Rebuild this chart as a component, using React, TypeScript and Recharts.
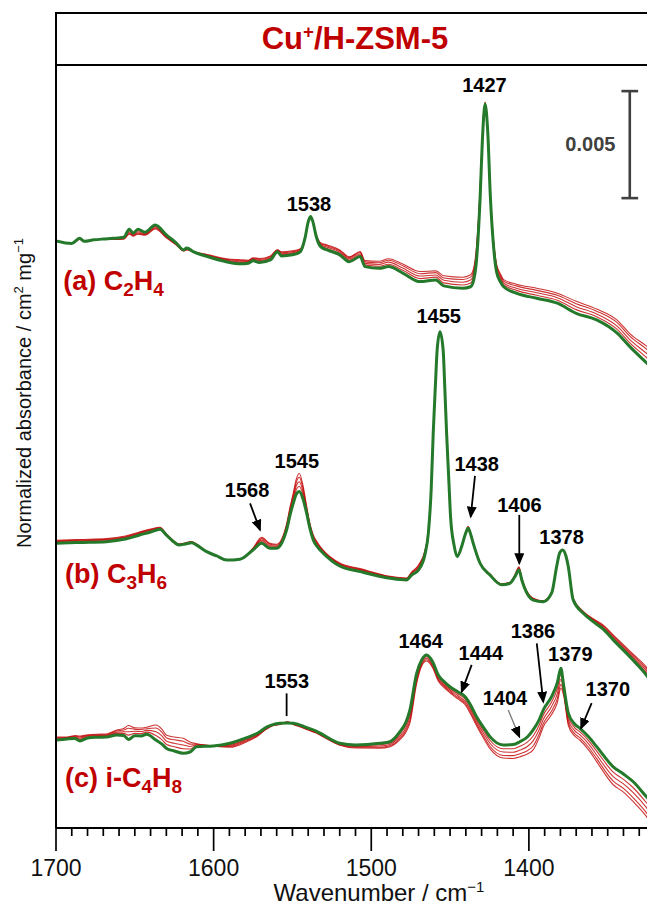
import React from 'react';
import { LineChart, Line, XAxis, YAxis, ReferenceLine, ReferenceDot } from 'recharts';

const W = 647;
const H = 905;
const FONT = '"Liberation Sans", Arial, Helvetica, sans-serif';
const RED = '#C00000';
const GREEN = '#24792A';

// spectra are stacked for clarity; offsets and values in mAbs (1e-3 absorbance)
const OFFSET_A = 26;
const OFFSET_B = 12;
const OFFSET_C = 4;

// (a) C2H4
const wnA = [1700, 1690, 1685, 1682, 1676, 1670, 1664, 1657, 1653.5, 1651, 1648, 1643.5, 1637, 1630, 1623.5, 1619, 1617, 1613, 1604, 1592, 1583, 1578, 1575, 1571, 1564, 1559.5, 1557, 1550, 1545, 1542, 1540, 1538.5, 1537, 1535, 1532, 1528, 1520, 1514, 1507, 1504, 1495, 1489, 1480, 1469, 1459, 1454, 1442, 1437, 1435, 1433.5, 1431, 1429.5, 1427.8, 1426, 1424.5, 1422.5, 1420.5, 1418, 1416, 1408, 1395, 1382, 1370, 1357, 1344, 1336, 1325, 1320];
const greenA = [1.43, 1.31, 1.55, 1.41, 1.48, 1.52, 1.55, 1.60, 1.98, 1.79, 1.98, 1.84, 2.18, 1.71, 1.32, 1.01, 1.10, 0.93, 0.70, 0.46, 0.36, 0.39, 0.50, 0.42, 0.54, 0.93, 0.73, 0.78, 0.92, 1.57, 2.32, 2.57, 2.32, 1.66, 1.15, 1.01, 0.78, 0.46, 0.70, 0.23, 0.15, 0.23, -0.07, -0.47, -0.39, -0.67, -0.78, -0.71, -0.39, 0.31, 3.35, 6.15, 7.83, 6.38, 3.58, 1.24, -0.02, -0.49, -0.71, -1.01, -1.25, -1.48, -1.95, -2.26, -2.88, -3.51, -4.29, -4.65];
const redA1 = [1.43, 1.31, 1.54, 1.41, 1.48, 1.52, 1.54, 1.57, 1.91, 1.75, 1.91, 1.80, 2.12, 1.67, 1.29, 1.00, 1.07, 0.93, 0.73, 0.50, 0.42, 0.43, 0.54, 0.48, 0.60, 0.96, 0.79, 0.84, 0.96, 1.58, 2.32, 2.57, 2.32, 1.69, 1.21, 1.08, 0.85, 0.53, 0.77, 0.31, 0.25, 0.34, 0.06, -0.33, -0.26, -0.53, -0.63, -0.54, -0.22, 0.51, 3.49, 6.21, 7.86, 6.38, 3.62, 1.32, 0.09, -0.38, -0.61, -0.88, -1.11, -1.34, -1.78, -2.11, -2.70, -3.33, -4.05, -4.40];
const redA2 = [1.43, 1.31, 1.52, 1.41, 1.48, 1.52, 1.52, 1.55, 1.85, 1.71, 1.85, 1.76, 2.08, 1.63, 1.27, 0.98, 1.05, 0.93, 0.75, 0.54, 0.46, 0.47, 0.58, 0.52, 0.64, 0.98, 0.83, 0.88, 1.00, 1.60, 2.32, 2.57, 2.32, 1.71, 1.25, 1.14, 0.91, 0.59, 0.83, 0.38, 0.33, 0.44, 0.16, -0.21, -0.16, -0.41, -0.50, -0.40, -0.08, 0.67, 3.61, 6.25, 7.88, 6.38, 3.66, 1.39, 0.19, -0.28, -0.53, -0.78, -0.99, -1.22, -1.64, -1.98, -2.55, -3.18, -3.85, -4.19];
const redA3 = [1.43, 1.31, 1.51, 1.41, 1.48, 1.52, 1.51, 1.53, 1.79, 1.68, 1.79, 1.73, 2.03, 1.60, 1.25, 0.97, 1.03, 0.93, 0.77, 0.57, 0.51, 0.50, 0.61, 0.57, 0.69, 1.00, 0.88, 0.93, 1.03, 1.61, 2.32, 2.57, 2.32, 1.73, 1.30, 1.20, 0.97, 0.65, 0.89, 0.45, 0.41, 0.53, 0.27, -0.10, -0.05, -0.30, -0.37, -0.26, 0.06, 0.83, 3.72, 6.30, 7.90, 6.38, 3.69, 1.46, 0.28, -0.19, -0.45, -0.67, -0.88, -1.11, -1.50, -1.85, -2.39, -3.02, -3.65, -3.98];
const redA4 = [1.43, 1.31, 1.50, 1.41, 1.48, 1.52, 1.50, 1.51, 1.75, 1.65, 1.75, 1.70, 1.99, 1.57, 1.23, 0.96, 1.01, 0.93, 0.79, 0.60, 0.55, 0.53, 0.64, 0.61, 0.73, 1.02, 0.92, 0.97, 1.06, 1.62, 2.32, 2.57, 2.32, 1.75, 1.34, 1.24, 1.01, 0.69, 0.93, 0.51, 0.48, 0.60, 0.35, 0.00, 0.03, -0.20, -0.27, -0.15, 0.17, 0.96, 3.82, 6.34, 7.92, 6.38, 3.72, 1.52, 0.35, -0.12, -0.38, -0.59, -0.78, -1.01, -1.39, -1.75, -2.27, -2.90, -3.50, -3.81];

// (b) C3H6
const wnB = [1700, 1685, 1668, 1656, 1647, 1640, 1634, 1630, 1626, 1622, 1618, 1614, 1610.8, 1604.4, 1598, 1591.7, 1583.3, 1575, 1569.5, 1564.3, 1560, 1556.5, 1553.7, 1551.5, 1549.5, 1547.5, 1545.7, 1543.5, 1541, 1539, 1536.8, 1533.5, 1530.5, 1520, 1507, 1488, 1477.6, 1474.4, 1470, 1466, 1463.8, 1462, 1460.7, 1459.3, 1458.2, 1456.4, 1454.4, 1453.3, 1452.2, 1450.8, 1449.7, 1447.5, 1445.5, 1442.7, 1440.5, 1438.5, 1436.8, 1435.3, 1431, 1424.7, 1417.3, 1412, 1408.9, 1406.3, 1404.5, 1403, 1397.3, 1390.9, 1385.6, 1382.4, 1380.5, 1378.6, 1376.5, 1375, 1371.9, 1365.5, 1359, 1353, 1346.5, 1334, 1325, 1320];
const greenB = [1.30, 1.34, 1.38, 1.50, 1.69, 1.83, 1.96, 1.69, 1.41, 1.22, 1.27, 1.33, 1.22, 0.91, 0.71, 0.52, 0.56, 0.99, 1.30, 1.07, 1.07, 1.36, 1.93, 2.63, 3.17, 3.61, 3.72, 3.42, 2.71, 2.02, 1.46, 1.08, 0.84, 0.24, -0.02, -0.33, -0.41, -0.18, 0.06, 0.76, 1.77, 3.79, 6.44, 8.70, 10.34, 11.19, 10.34, 8.47, 6.44, 4.26, 2.55, 1.22, 0.68, 1.14, 1.69, 2.00, 1.69, 1.30, 0.37, -0.18, -0.64, -0.57, -0.26, 0.06, -0.41, -0.74, -1.35, -1.43, -1.03, 0.21, 0.85, 0.99, 0.71, 0.21, -1.35, -1.97, -2.37, -2.70, -3.21, -4.15, -4.90, -5.46];
const redB1 = [1.34, 1.38, 1.42, 1.54, 1.73, 1.87, 1.99, 1.70, 1.42, 1.23, 1.28, 1.34, 1.23, 0.91, 0.71, 0.52, 0.56, 1.02, 1.38, 1.14, 1.13, 1.42, 2.01, 2.74, 3.31, 3.82, 3.97, 3.62, 2.81, 2.09, 1.53, 1.14, 0.88, 0.28, 0.02, -0.30, -0.38, -0.14, 0.13, 0.82, 1.80, 3.80, 6.44, 8.70, 10.34, 11.19, 10.34, 8.47, 6.44, 4.26, 2.55, 1.23, 0.69, 1.15, 1.70, 2.03, 1.70, 1.31, 0.38, -0.17, -0.63, -0.56, -0.23, 0.10, -0.38, -0.71, -1.32, -1.42, -1.02, 0.21, 0.85, 0.99, 0.71, 0.22, -1.32, -1.94, -2.33, -2.64, -3.14, -4.07, -4.79, -5.35];
const redB2 = [1.38, 1.42, 1.46, 1.58, 1.77, 1.91, 2.01, 1.72, 1.44, 1.25, 1.30, 1.36, 1.25, 0.91, 0.71, 0.52, 0.56, 1.04, 1.45, 1.20, 1.17, 1.46, 2.08, 2.84, 3.43, 4.00, 4.18, 3.78, 2.89, 2.15, 1.59, 1.18, 0.92, 0.32, 0.06, -0.28, -0.36, -0.10, 0.19, 0.86, 1.82, 3.82, 6.44, 8.70, 10.34, 11.19, 10.34, 8.47, 6.44, 4.26, 2.55, 1.25, 0.71, 1.17, 1.72, 2.05, 1.72, 1.33, 0.40, -0.15, -0.61, -0.54, -0.21, 0.14, -0.36, -0.69, -1.30, -1.40, -1.00, 0.21, 0.85, 0.99, 0.71, 0.24, -1.30, -1.92, -2.29, -2.60, -3.08, -4.00, -4.69, -5.25];
const redB3 = [1.41, 1.45, 1.49, 1.61, 1.80, 1.94, 2.03, 1.73, 1.45, 1.26, 1.31, 1.37, 1.26, 0.91, 0.71, 0.52, 0.56, 1.06, 1.52, 1.26, 1.22, 1.51, 2.15, 2.93, 3.54, 4.17, 4.39, 3.94, 2.97, 2.21, 1.65, 1.23, 0.95, 0.35, 0.09, -0.26, -0.34, -0.07, 0.25, 0.91, 1.84, 3.83, 6.44, 8.70, 10.34, 11.19, 10.34, 8.47, 6.44, 4.26, 2.55, 1.26, 0.72, 1.18, 1.73, 2.07, 1.73, 1.34, 0.41, -0.14, -0.60, -0.53, -0.19, 0.17, -0.34, -0.67, -1.28, -1.39, -0.99, 0.21, 0.85, 0.99, 0.71, 0.25, -1.28, -1.90, -2.26, -2.55, -3.02, -3.93, -4.60, -5.16];
const redB4 = [1.44, 1.48, 1.52, 1.64, 1.83, 1.97, 2.05, 1.74, 1.46, 1.27, 1.32, 1.38, 1.27, 0.91, 0.71, 0.52, 0.56, 1.08, 1.58, 1.30, 1.26, 1.55, 2.21, 3.00, 3.64, 4.31, 4.56, 4.07, 3.04, 2.25, 1.69, 1.27, 0.98, 0.38, 0.12, -0.24, -0.32, -0.04, 0.29, 0.95, 1.86, 3.84, 6.44, 8.70, 10.34, 11.19, 10.34, 8.47, 6.44, 4.26, 2.55, 1.27, 0.73, 1.19, 1.74, 2.09, 1.74, 1.35, 0.42, -0.13, -0.59, -0.52, -0.17, 0.20, -0.32, -0.65, -1.26, -1.38, -0.98, 0.21, 0.85, 0.99, 0.71, 0.26, -1.26, -1.88, -2.23, -2.51, -2.98, -3.87, -4.53, -5.09];

// (c) i-C4H8
const wnC = [1700, 1693, 1688, 1684.8, 1680, 1674.2, 1668, 1661.5, 1657, 1654, 1650, 1646, 1642.5, 1636.6, 1633, 1629.8, 1625, 1619.3, 1615, 1610.8, 1600.3, 1589.6, 1579, 1572, 1566.4, 1562, 1557.9, 1553, 1549.5, 1545, 1541, 1535, 1530.5, 1520, 1510, 1494.5, 1488.2, 1481.8, 1478, 1475.5, 1471.2, 1468, 1464.9, 1461, 1457.5, 1453.5, 1450.1, 1445, 1440.6, 1437, 1433.2, 1428.5, 1424.7, 1416.3, 1410, 1405.7, 1401, 1397.3, 1393.5, 1390.9, 1385.6, 1382, 1379.7, 1378, 1375, 1371, 1367.6, 1362, 1357, 1346.5, 1340, 1333.8, 1325.4, 1320];
const greenC = [0.11, 0.16, 0.18, 0.07, 0.21, 0.24, 0.25, 0.35, 0.32, 0.14, 0.31, 0.30, 0.38, 0.11, -0.07, -0.28, -0.40, -0.51, -0.45, -0.20, -0.17, -0.04, 0.22, 0.44, 0.71, 0.84, 0.89, 0.91, 0.89, 0.81, 0.69, 0.53, 0.35, -0.04, -0.12, -0.04, 0.03, 0.50, 0.95, 1.51, 3.23, 3.85, 4.08, 3.76, 3.15, 2.82, 2.60, 2.36, 2.14, 1.75, 1.20, 0.67, 0.27, -0.12, -0.10, 0.03, 0.25, 0.58, 1.05, 1.51, 2.14, 2.78, 3.46, 2.68, 1.36, 0.86, 0.66, 0.25, -0.20, -1.14, -1.48, -1.84, -2.54, -2.97];
const redC1 = [0.15, 0.19, 0.22, 0.14, 0.25, 0.28, 0.29, 0.42, 0.42, 0.34, 0.42, 0.41, 0.48, 0.32, 0.14, -0.10, -0.20, -0.30, -0.31, -0.16, -0.17, -0.10, 0.16, 0.40, 0.68, 0.83, 0.88, 0.92, 0.88, 0.78, 0.66, 0.50, 0.32, -0.07, -0.16, -0.11, -0.04, 0.39, 0.81, 1.33, 3.09, 3.77, 4.00, 3.68, 3.07, 2.74, 2.52, 2.26, 2.03, 1.62, 1.07, 0.52, 0.10, -0.30, -0.30, -0.18, 0.01, 0.30, 0.80, 1.27, 1.89, 2.50, 3.18, 2.54, 1.19, 0.69, 0.49, 0.07, -0.41, -1.39, -1.73, -2.12, -2.82, -3.31];
const redC2 = [0.19, 0.21, 0.26, 0.20, 0.29, 0.32, 0.33, 0.48, 0.50, 0.50, 0.52, 0.51, 0.56, 0.50, 0.32, 0.05, -0.04, -0.12, -0.19, -0.12, -0.17, -0.14, 0.12, 0.36, 0.66, 0.81, 0.86, 0.94, 0.86, 0.76, 0.64, 0.48, 0.30, -0.09, -0.20, -0.17, -0.10, 0.29, 0.69, 1.18, 2.97, 3.70, 3.93, 3.61, 3.00, 2.67, 2.45, 2.18, 1.93, 1.52, 0.97, 0.39, -0.04, -0.45, -0.46, -0.36, -0.19, 0.07, 0.59, 1.07, 1.68, 2.27, 2.95, 2.42, 1.05, 0.55, 0.35, -0.08, -0.59, -1.60, -1.94, -2.35, -3.05, -3.59];
const redC3 = [0.22, 0.23, 0.29, 0.26, 0.32, 0.35, 0.36, 0.54, 0.58, 0.66, 0.61, 0.60, 0.64, 0.67, 0.49, 0.21, 0.12, 0.05, -0.08, -0.09, -0.17, -0.19, 0.07, 0.33, 0.64, 0.80, 0.85, 0.95, 0.85, 0.74, 0.62, 0.46, 0.28, -0.11, -0.23, -0.23, -0.16, 0.20, 0.58, 1.02, 2.86, 3.63, 3.86, 3.54, 2.93, 2.60, 2.38, 2.10, 1.84, 1.41, 0.86, 0.26, -0.18, -0.61, -0.62, -0.53, -0.39, -0.17, 0.38, 0.87, 1.47, 2.03, 2.71, 2.31, 0.91, 0.41, 0.21, -0.24, -0.76, -1.81, -2.15, -2.59, -3.29, -3.87];
const redC4 = [0.25, 0.25, 0.32, 0.30, 0.35, 0.38, 0.39, 0.58, 0.65, 0.79, 0.68, 0.67, 0.71, 0.81, 0.63, 0.33, 0.25, 0.19, 0.02, -0.06, -0.17, -0.23, 0.03, 0.30, 0.62, 0.79, 0.84, 0.96, 0.84, 0.72, 0.60, 0.44, 0.26, -0.13, -0.26, -0.27, -0.20, 0.13, 0.48, 0.90, 2.76, 3.57, 3.80, 3.48, 2.87, 2.54, 2.32, 2.03, 1.77, 1.33, 0.78, 0.16, -0.29, -0.73, -0.75, -0.67, -0.54, -0.35, 0.21, 0.72, 1.30, 1.85, 2.53, 2.21, 0.80, 0.30, 0.10, -0.36, -0.90, -1.98, -2.32, -2.77, -3.47, -4.09];

const majorTicks = [1700, 1600, 1500, 1400];
const minorTicks = [1690, 1680, 1670, 1660, 1650, 1640, 1630, 1620, 1610, 1590, 1580, 1570, 1560, 1550, 1540, 1530, 1520, 1510, 1490, 1480, 1470, 1460, 1450, 1440, 1430, 1420, 1410, 1390, 1380, 1370, 1360, 1350, 1340, 1330];

// peak labels, positioned in data space (wavenumber, stacked mAbs)
const peakLabels = [
  { text: '1427', wn: 1428.2, v: 34.72 },
  { text: '1538', wn: 1539.5, v: 29.17 },
  { text: '1455', wn: 1457.2, v: 23.95 },
  { text: '1545', wn: 1547.2, v: 17.18 },
  { text: '1568', wn: 1578.8, v: 15.81 },
  { text: '1438', wn: 1433.1, v: 17.04 },
  { text: '1406', wn: 1406.0, v: 15.11 },
  { text: '1378', wn: 1379.3, v: 13.61 },
  { text: '1553', wn: 1553.6, v: 6.88 },
  { text: '1464', wn: 1468.6, v: 8.75 },
  { text: '1444', wn: 1430.5, v: 8.2 },
  { text: '1404', wn: 1415.2, v: 6.1 },
  { text: '1386', wn: 1397.4, v: 9.23 },
  { text: '1379', wn: 1373.7, v: 8.12 },
  { text: '1370', wn: 1349.9, v: 6.49 },
];

const arrows = [
  { x1: 1576.9, y1: 15.17, x2: 1570.6, y2: 13.93, grey: false },
  { x1: 1434.2, y1: 16.45, x2: 1436.9, y2: 14.55, grey: false },
  { x1: 1406.1, y1: 14.63, x2: 1406.1, y2: 12.37, grey: false },
  { x1: 1436.3, y1: 7.62, x2: 1442.6, y2: 6.37, grey: false },
  { x1: 1413.1, y1: 5.51, x2: 1406.1, y2: 4.27, grey: true },
  { x1: 1395.0, y1: 8.63, x2: 1390.9, y2: 5.9, grey: false },
  { x1: 1360.2, y1: 5.83, x2: 1366.9, y2: 4.66, grey: false },
];
const marker1553 = { wn: 1553.7, top: 6.29, bottom: 5.23 };

const speciesLabels = [
  { wn: 1695.4, v: 25.16, parts: [['(a) C', 0], ['2', 1], ['H', 0], ['4', 1]] },
  { wn: 1694.3, v: 11.43, parts: [['(b) C', 0], ['3', 1], ['H', 0], ['6', 1]] },
  { wn: 1694.3, v: 1.93, parts: [['(c) i-C', 0], ['4', 1], ['H', 0], ['8', 1]] },
];

// 0.005 absorbance = 5 mAbs
const scaleBar = { wn: 1336, base: 29.43, size: 5, capHalf: 5.3, label: '0.005', labelWn: 1361, labelV: 31.96 };

const groups = [
  { id: 'a', offset: OFFSET_A, wn: wnA, green: greenA, reds: [redA1, redA2, redA3, redA4] },
  { id: 'b', offset: OFFSET_B, wn: wnB, green: greenB, reds: [redB1, redB2, redB3, redB4] },
  { id: 'c', offset: OFFSET_C, wn: wnC, green: greenC, reds: [redC1, redC2, redC3, redC4] },
];

const toRows = (wn: number[], vals: number[], offset: number) =>
  wn.map((w, i) => ({ wn: w, v: vals[i] + offset }));

function WnTick(props: any) {
  const { x, y, payload } = props;
  const major = majorTicks.includes(payload.value);
  return (
    <g>
      <line x1={x} x2={x} y1={y} y2={y + (major ? 23 : 8)} stroke="#000" strokeWidth={1.7} />
      {major && (
        <text x={x} y={y + 48} textAnchor="middle" fontSize={23} fill="#111" fontFamily={FONT}>
          {payload.value}
        </text>
      )}
    </g>
  );
}

export default function App() {
  const labelStyle = { fontFamily: FONT, fontWeight: 700, fontSize: 20, fill: '#000' };

  return (
    <div style={{ position: 'absolute', left: 0, top: 0, width: W, height: H, overflow: 'hidden', background: '#fff', fontFamily: FONT }}>
      <LineChart width={700} height={H} margin={{ top: 65, right: 45, bottom: 0, left: 0 }}>
        <defs>
          <marker id="arrowHead" viewBox="0 0 12 10" refX="10" refY="5" markerWidth="12" markerHeight="10" markerUnits="userSpaceOnUse" orient="auto">
            <path d="M0,0 L12,5 L0,10 z" fill="#000" />
          </marker>
        </defs>
        <XAxis
          type="number"
          dataKey="wn"
          domain={[1320, 1700]}
          reversed
          allowDataOverflow
          ticks={[...majorTicks, ...minorTicks]}
          interval={0}
          tick={<WnTick />}
          tickLine={false}
          tickSize={0}
          tickMargin={0}
          height={77}
          axisLine={{ stroke: '#000', strokeWidth: 2 }}
        />
        <YAxis
          type="number"
          domain={[0, 35.65]}
          allowDataOverflow
          tick={false}
          tickLine={false}
          width={56}
          axisLine={{ stroke: '#000', strokeWidth: 2 }}
        />

        {groups.flatMap((g) => [
          ...g.reds.map((r, ri) => (
            <Line
              key={`${g.id}-red-${ri}`}
              data={toRows(g.wn, r, g.offset)}
              dataKey="v"
              type="monotone"
              stroke={RED}
              strokeWidth={1.1}
              strokeOpacity={0.8}
              dot={false}
              activeDot={false}
              isAnimationActive={false}
            />
          )),
          <Line
            key={`${g.id}-green`}
            data={toRows(g.wn, g.green, g.offset)}
            dataKey="v"
            type="monotone"
            stroke={GREEN}
            strokeWidth={3}
            dot={false}
            activeDot={false}
            isAnimationActive={false}
          />,
        ])}

        {peakLabels.map((p) => (
          <ReferenceDot
            key={`pk-${p.text}`}
            x={p.wn}
            y={p.v}
            r={0}
            ifOverflow="visible"
            shape={(s: any) => (
              <text x={s.cx} y={s.cy} dy="0.36em" textAnchor="middle" style={labelStyle}>
                {p.text}
              </text>
            )}
          />
        ))}

        {arrows.map((a, i) => (
          <ReferenceLine
            key={`arr-${i}`}
            segment={[{ x: a.x1, y: a.y1 }, { x: a.x2, y: a.y2 }]}
            ifOverflow="visible"
            shape={(s: any) => (
              <line
                x1={s.x1}
                y1={s.y1}
                x2={s.x2}
                y2={s.y2}
                stroke={a.grey ? '#7a7a7a' : '#000'}
                strokeWidth={a.grey ? 1.3 : 1.8}
                markerEnd="url(#arrowHead)"
              />
            )}
          />
        ))}

        <ReferenceLine
          segment={[{ x: marker1553.wn, y: marker1553.top }, { x: marker1553.wn, y: marker1553.bottom }]}
          ifOverflow="visible"
          stroke="#000"
          strokeWidth={1.8}
        />

        {/* scale bar */}
        <ReferenceLine
          segment={[{ x: scaleBar.wn, y: scaleBar.base }, { x: scaleBar.wn, y: scaleBar.base + scaleBar.size }]}
          ifOverflow="visible"
          stroke="#404040"
          strokeWidth={2.6}
        />
        {[scaleBar.base, scaleBar.base + scaleBar.size].map((yv) => (
          <ReferenceLine
            key={`cap-${yv}`}
            segment={[{ x: scaleBar.wn + scaleBar.capHalf, y: yv }, { x: scaleBar.wn - scaleBar.capHalf, y: yv }]}
            ifOverflow="visible"
            stroke="#404040"
            strokeWidth={2.6}
          />
        ))}
        <ReferenceDot
          x={scaleBar.labelWn}
          y={scaleBar.labelV}
          r={0}
          ifOverflow="visible"
          shape={(s: any) => (
            <text x={s.cx} y={s.cy} dy="0.36em" textAnchor="middle" style={{ ...labelStyle, fill: '#404040' }}>
              {scaleBar.label}
            </text>
          )}
        />

        {speciesLabels.map((sp, i) => (
          <ReferenceDot
            key={`sp-${i}`}
            x={sp.wn}
            y={sp.v}
            r={0}
            ifOverflow="visible"
            shape={(s: any) => {
              let shift = 0;
              return (
                <text x={s.cx} y={s.cy} fill={RED} fontSize={27} fontWeight={700} fontFamily={FONT}>
                  {sp.parts.map(([t, sub], k) => {
                    const target = sub ? 6 : 0;
                    const dy = target - shift;
                    shift = target;
                    return (
                      <tspan key={k} dy={dy} fontSize={sub ? 19 : 27}>
                        {t as string}
                      </tspan>
                    );
                  })}
                </text>
              );
            }}
          />
        ))}
      </LineChart>

      {/* title box on top of the plot frame */}
      <div
        style={{
          position: 'absolute',
          left: 55,
          top: 12,
          width: 600,
          height: 54,
          border: '2px solid #000',
          boxSizing: 'border-box',
          display: 'flex',
          alignItems: 'center',
          justifyContent: 'center',
          color: RED,
          fontWeight: 700,
          fontSize: 31,
          lineHeight: 1,
          fontFamily: FONT,
        }}
      >
        <span>
          Cu<span style={{ fontSize: '0.6em', verticalAlign: '0.6em' }}>+</span>/H-ZSM-5
        </span>
      </div>

      <svg width={W} height={H} style={{ position: 'absolute', left: 0, top: 0, pointerEvents: 'none' }}>
        <text
          transform="translate(31, 393) rotate(-90)"
          textAnchor="middle"
          fontSize={20}
          fill="#111"
          fontFamily={FONT}
        >
          Normalized absorbance / cm<tspan fontSize={13} dy={-8}>2</tspan>
          <tspan dy={8}> mg</tspan>
          <tspan fontSize={13} dy={-8}>−1</tspan>
        </text>
        <text x={379} y={901} textAnchor="middle" fontSize={24} fill="#111" fontFamily={FONT}>
          Wavenumber / cm<tspan fontSize={15} dy={-9}>−1</tspan>
        </text>
      </svg>
    </div>
  );
}
